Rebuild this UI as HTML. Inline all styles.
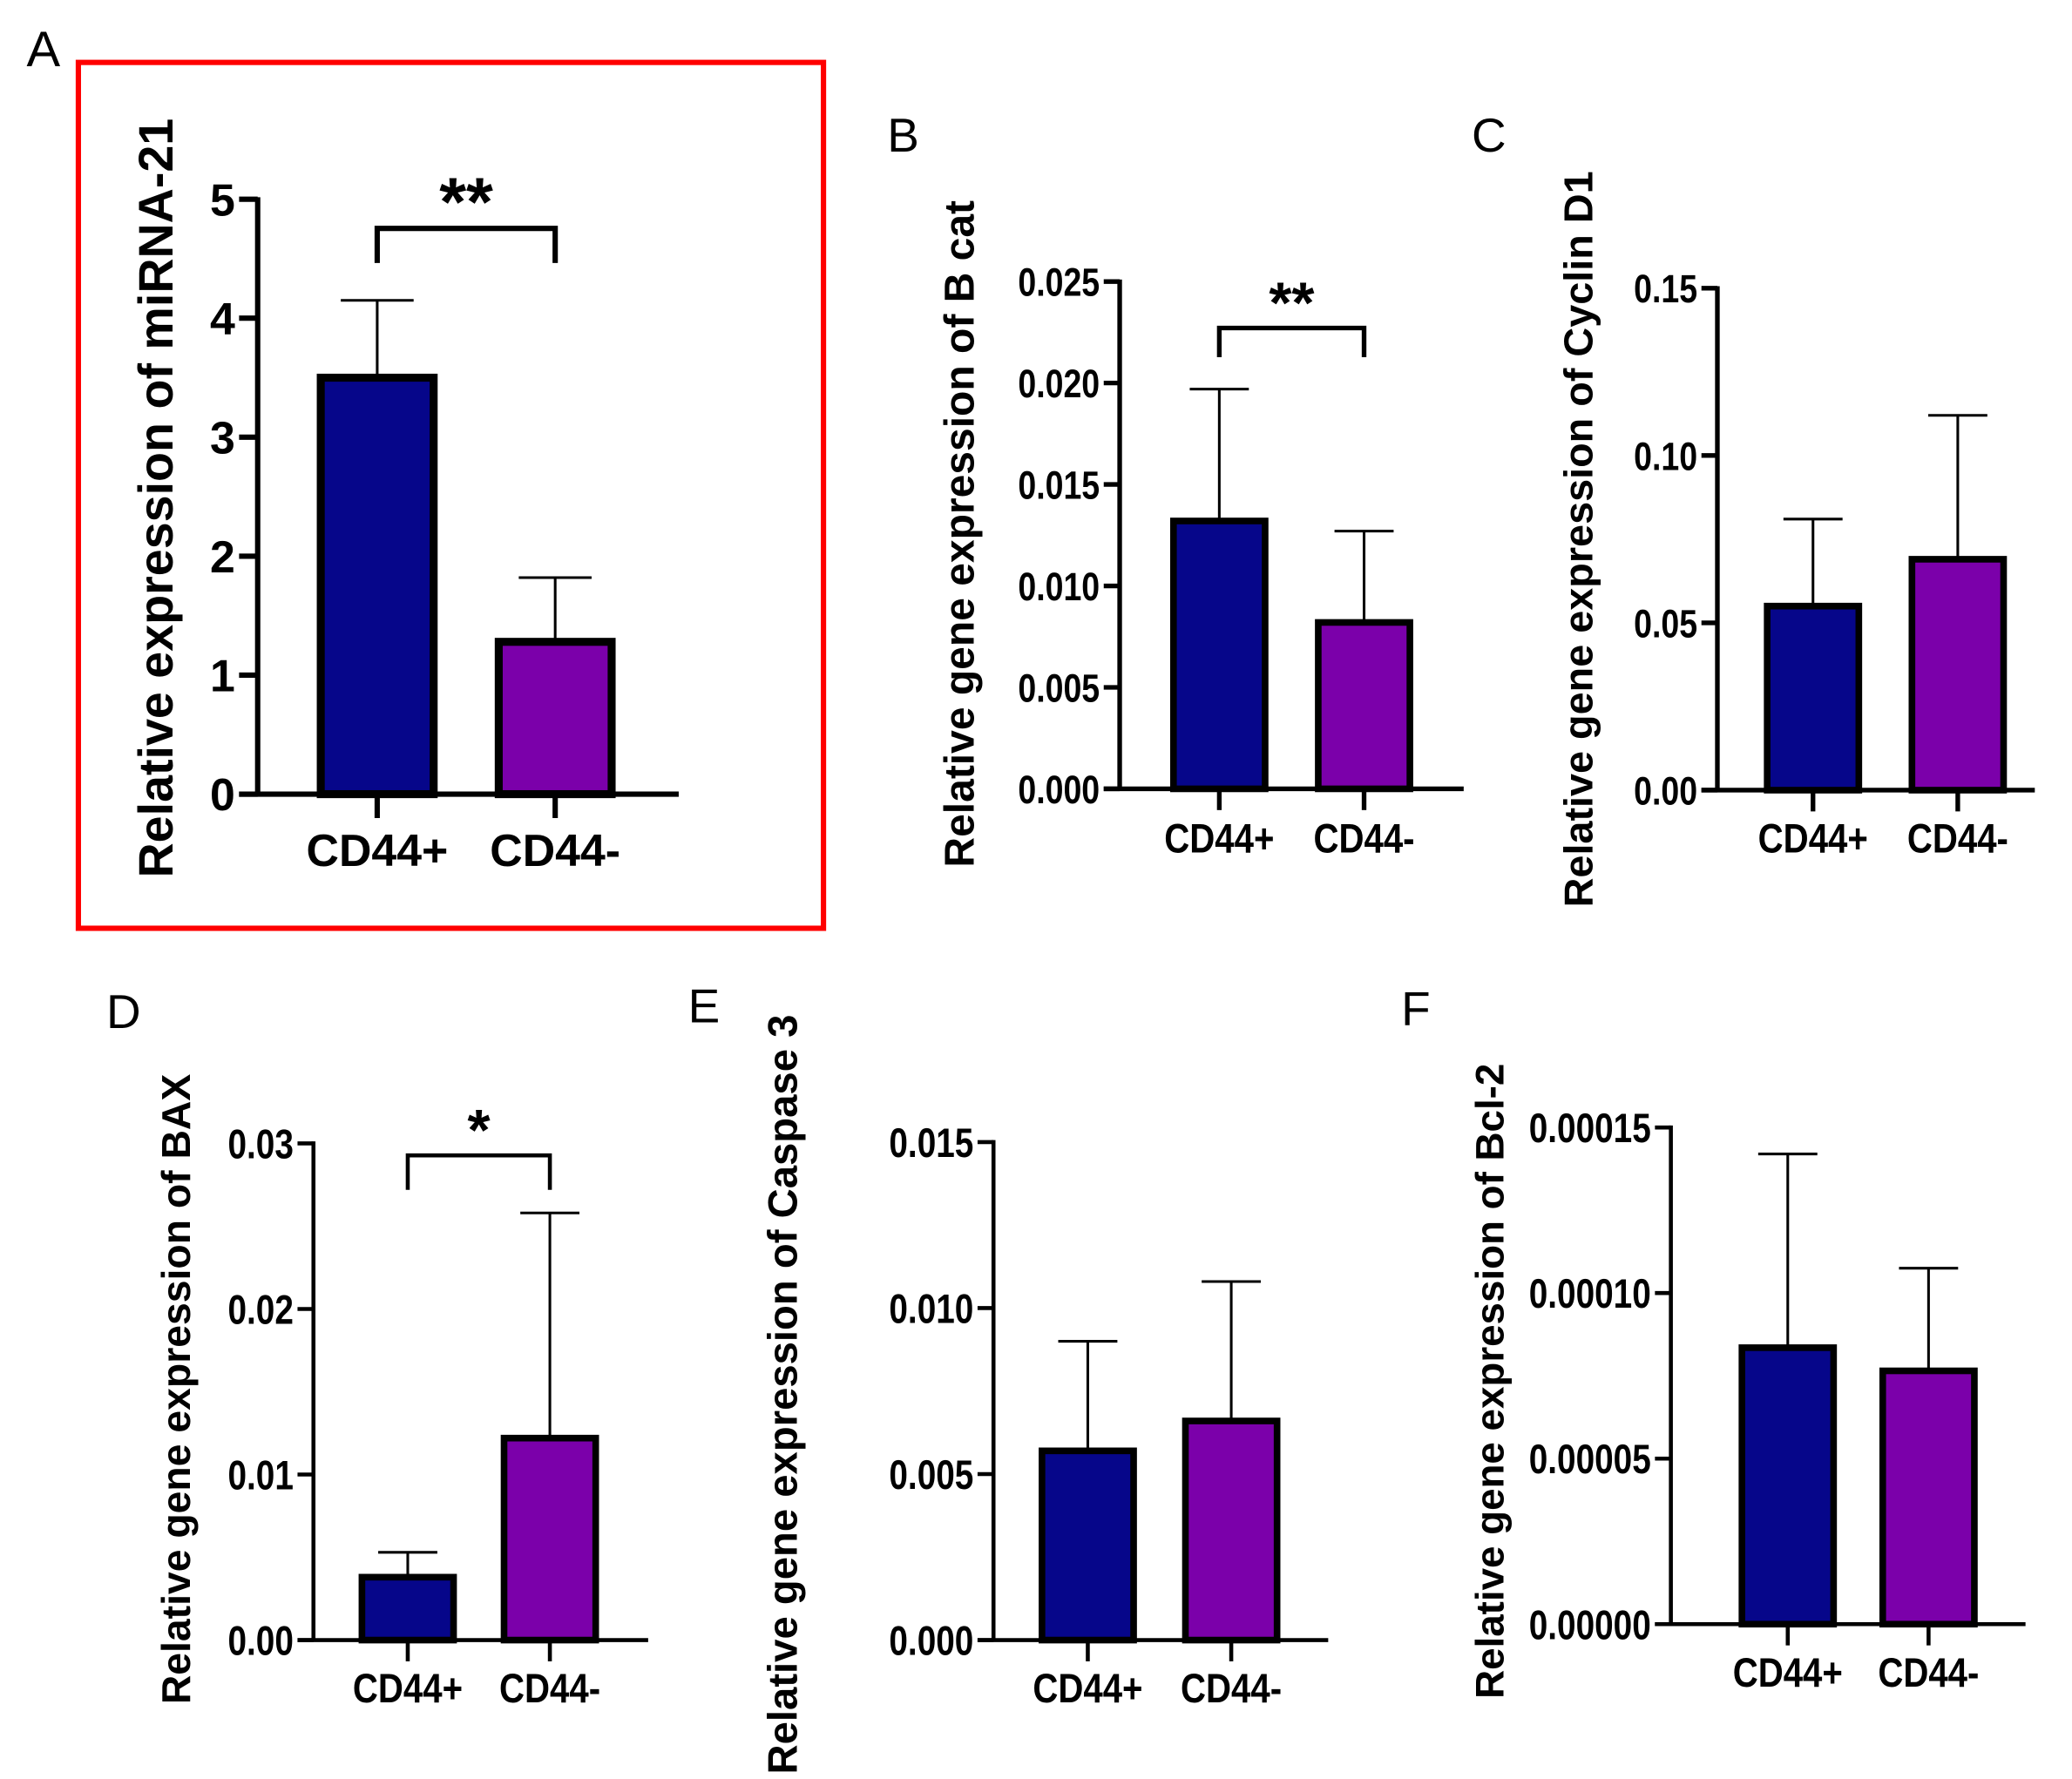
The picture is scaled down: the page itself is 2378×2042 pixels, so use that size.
<!DOCTYPE html>
<html><head><meta charset="utf-8"><style>
html,body{margin:0;padding:0;background:#fff;}
svg{display:block;}
text{font-family:"Liberation Sans",Arial,sans-serif;font-weight:bold;fill:#000;}
</style></head><body>
<svg id="fig" width="2378" height="2042" viewBox="0 0 1560 1339.6" preserveAspectRatio="none" xmlns="http://www.w3.org/2000/svg">
<rect x="0" y="0" width="1560" height="1340" fill="#fff"/>
<rect x="59" y="47" width="561" height="652" fill="none" stroke="#ff0000" stroke-width="4"/>
<g id="letters">
<text x="20" y="50" font-size="38" style="font-weight:normal">A</text>
<text x="668" y="114" font-size="36" style="font-weight:normal">B</text>
<text x="1108" y="114" font-size="36" style="font-weight:normal">C</text>
<text x="80" y="774" font-size="36" style="font-weight:normal">D</text>
<text x="518" y="770" font-size="36" style="font-weight:normal">E</text>
<text x="1055" y="772" font-size="36" style="font-weight:normal">F</text>
</g>
</svg>
<script>
const categories = ["CD44+", "CD44-"];
const aValues = [3.5, 1.28];
const aErrors = [4.15, 1.82];
const aTicks = ["0","1","2","3","4","5"];
const bValues = [0.0132, 0.0082];
const bErrors = [0.0197, 0.0127];
const bTicks = ["0.000","0.005","0.010","0.015","0.020","0.025"];
const cValues = [0.055, 0.069];
const cErrors = [0.081, 0.112];
const cTicks = ["0.00","0.05","0.10","0.15"];
const dValues = [0.0038, 0.0122];
const dErrors = [0.0053, 0.0258];
const dTicks = ["0.00","0.01","0.02","0.03"];
const eValues = [0.0057, 0.0066];
const eErrors = [0.0090, 0.0108];
const eTicks = ["0.000","0.005","0.010","0.015"];
const fValues = [0.0000835, 0.0000765];
const fErrors = [0.000142, 0.0001075];
const fTicks = ["0.00000","0.00005","0.00010","0.00015"];
const colors = ["#06068a", "#7b00aa"];
const NS = "http://www.w3.org/2000/svg";
const svg = document.getElementById('fig');
function mk(tag, attrs, parent){const e=document.createElementNS(NS,tag);for(const k in attrs)e.setAttribute(k,attrs[k]);(parent||svg).appendChild(e);return e;}
function sx(el, x, s){el.setAttribute('transform','translate('+x+',0) scale('+s+',1) translate('+(-x)+',0)');}
function panel(p){
  const g = mk('g',{});
  
  
  const max = parseFloat(p.ticks[p.ticks.length-1]);
  const y = v => p.y0 - (v/max)*(p.y0-p.yTop);
  p.values.forEach((v,i)=>{
    const cx = p.cx[i], hw = p.bw/2;
    const top = y(v);
    const eb = mk('line',{x1:cx,x2:cx,y1:y(p.errors[i]),y2:top,stroke:'#000','stroke-width':2},g);
    
    
    const cap = mk('line',{x1:cx-hw/1.55,x2:cx+hw/1.55,y1:y(p.errors[i]),y2:y(p.errors[i]),stroke:'#000','stroke-width':2},g);
    
    
    const r = mk('rect',{x:cx-hw,y:top,width:p.bw,height:p.y0-top,fill:colors[i],stroke:'#000','stroke-width':p.sw},g);
    
    
  });
  const ya = mk('line',{x1:p.ax,x2:p.ax,y1:p.yTop-1.5,y2:p.y0,stroke:'#000','stroke-width':p.aw},g);
  
  
  const xa = mk('line',{x1:p.ax-p.tl,x2:p.xEnd,y1:p.y0,y2:p.y0,stroke:'#000','stroke-width':p.aw},g);
  
  
  p.ticks.forEach(t=>{
    const ty = y(parseFloat(t));
    mk('line',{x1:p.ax-p.tl,x2:p.ax,y1:ty,y2:ty,stroke:'#000','stroke-width':p.aw},g);
    const tx = mk('text',{x:p.ax-p.tl-3,y:ty+p.fs*0.36,'text-anchor':'end','font-size':p.fs},g);
    tx.textContent = t;
    if(p.narrow) sx(tx, p.ax-p.tl-3, 0.82);
    
    
  });
  categories.forEach((c,i)=>{
    mk('line',{x1:p.cx[i],x2:p.cx[i],y1:p.y0,y2:p.y0+p.tl+4,stroke:'#000','stroke-width':p.aw},g);
    const tx = mk('text',{x:p.cx[i],y:p.labY,'text-anchor':'middle','font-size':p.lfs},g);
    tx.textContent = c;
    if(p.narrow) sx(tx, p.cx[i], 0.85);
    
    
  });
  const tt = mk('text',{x:0,y:0,'text-anchor':'middle','font-size':p.tfs,transform:'translate('+p.titleX+','+p.titleY+') rotate(-90)'},g);
  tt.textContent = p.title;
  
  
  if(p.sig){
    const b = p.sig;
    const br = mk('path',{d:'M'+p.cx[0]+' '+b.yb+' V'+b.y+' H'+p.cx[1]+' V'+b.yb,fill:'none',stroke:'#000','stroke-width':p.aw},g);
    
    
    const st = mk('text',{x:(p.cx[0]+p.cx[1])/2,y:b.ty,'text-anchor':'middle','font-size':b.fs},g);
    st.textContent = b.text;
    
    
  }
}
panel({name:'panel-a-mirna21',values:aValues,errors:aErrors,ticks:aTicks,ax:194,y0:598,yTop:150,xEnd:511,tl:14,aw:4,sw:6,cx:[284,418],bw:85,fs:34,lfs:34,labY:652,tfs:36.5,title:'Relative expression of miRNA-21',titleX:130,titleY:375,sig:{y:172,yb:198,ty:170,fs:52,text:'**'}});
panel({name:'panel-b-bcat',values:bValues,errors:bErrors,ticks:bTicks,ax:843,y0:594,yTop:212,xEnd:1102,tl:12,aw:3.5,sw:5,cx:[918,1027],bw:69,fs:30,lfs:31,labY:642,tfs:31.5,title:'Relative gene expression of B cat',titleX:733,titleY:402,narrow:true,sig:{y:247,yb:269,ty:243,fs:44,text:'**'}});
panel({name:'panel-c-cyclind1',values:cValues,errors:cErrors,ticks:cTicks,ax:1293,y0:595,yTop:217,xEnd:1532,tl:12,aw:3.5,sw:5,cx:[1365,1474],bw:69,fs:30,lfs:31,labY:642,tfs:30.7,title:'Relative gene expression of Cyclin D1',titleX:1199,titleY:406,narrow:true});
panel({name:'panel-d-bax',values:dValues,errors:dErrors,ticks:dTicks,ax:236,y0:1235,yTop:861,xEnd:488,tl:12,aw:3,sw:5,cx:[307,414],bw:69,fs:31,lfs:31,labY:1282,tfs:30.4,title:'Relative gene expression of BAX',titleX:143,titleY:1046,narrow:true,sig:{y:870,yb:896,ty:866,fs:44,text:'*'}});
panel({name:'panel-e-caspase3',values:eValues,errors:eErrors,ticks:eTicks,ax:748,y0:1235,yTop:860,xEnd:1000,tl:12,aw:3,sw:5,cx:[819,927],bw:69,fs:31,lfs:31,labY:1282,tfs:31,title:'Relative gene expression of Caspase 3',titleX:600,titleY:1050,narrow:true});
panel({name:'panel-f-bcl2',values:fValues,errors:fErrors,ticks:fTicks,ax:1258,y0:1223,yTop:849,xEnd:1525,tl:12,aw:3,sw:5,cx:[1346,1452],bw:69,fs:31,lfs:31,labY:1270,tfs:30,title:'Relative gene expression of Bcl-2',titleX:1132,titleY:1040,narrow:true});
</script>
</body></html>
